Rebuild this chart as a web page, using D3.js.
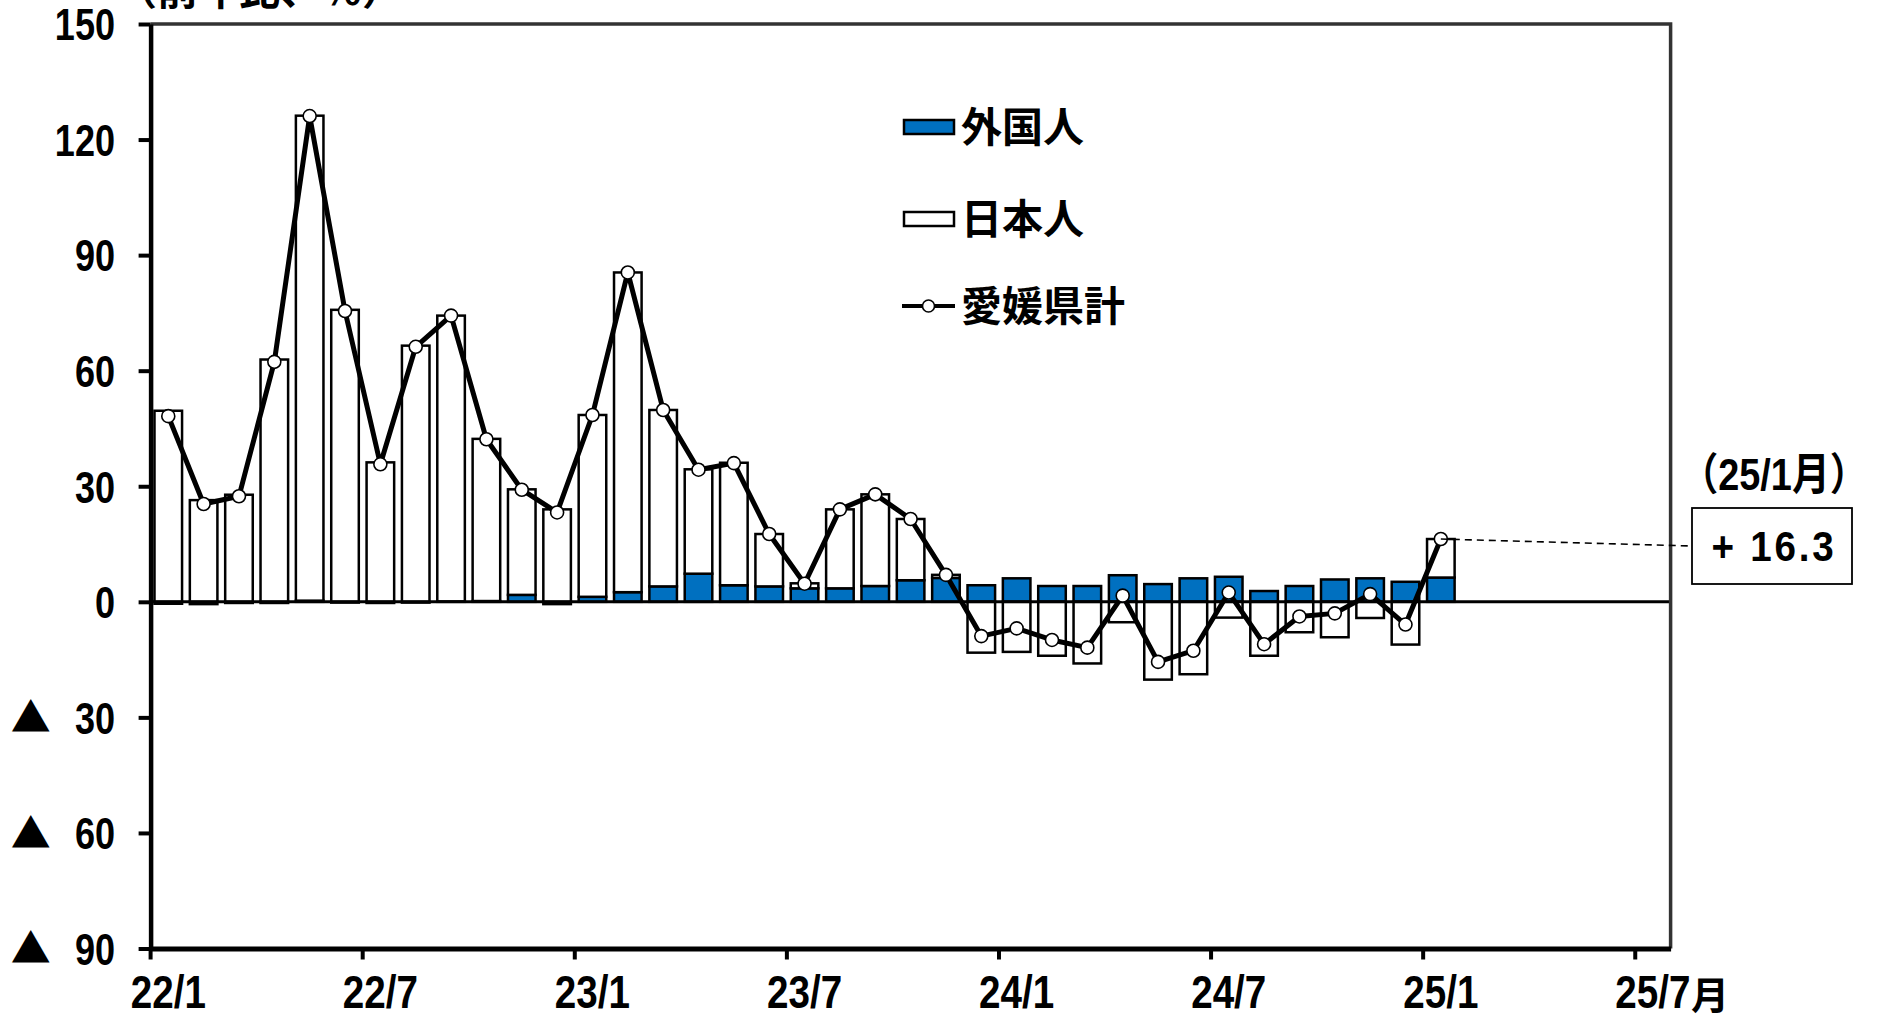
<!DOCTYPE html>
<html>
<head>
<meta charset="utf-8">
<script src="https://cdn.jsdelivr.net/npm/d3@7"></script>
<style>
  body { margin: 0; background: #fff; }
</style>
</head>
<body>
<div id="container"></div>
<script>
//---------------------------------------------------------
// DATA

const months = [
  '22/1', '22/2', '22/3', '22/4', '22/5', '22/6', '22/7', '22/8', '22/9', '22/10', '22/11', '22/12',
  '23/1', '23/2', '23/3', '23/4', '23/5', '23/6', '23/7', '23/8', '23/9', '23/10', '23/11', '23/12',
  '24/1', '24/2', '24/3', '24/4', '24/5', '24/6', '24/7', '24/8', '24/9', '24/10', '24/11', '24/12',
  '25/1', '25/2', '25/3', '25/4', '25/5', '25/6', '25/7'
]
const tickMonths = ['22/1', '22/7', '23/1', '23/7', '24/1', '24/7', '25/1', '25/7']

// contributions (percentage points), 22/1 .. 25/1
const foreign = [
  -0.5, -0.6, -0.3, -0.3, 0.3, -0.2, -0.3, -0.2, 0.1, 0.2, 1.8, -0.6,
  1.3, 2.5, 4.0, 7.3, 4.3, 4.0, 3.5, 3.5, 4.1, 5.6, 6.2, 4.3,
  6.1, 4.1, 4.1, 6.9, 4.6, 6.1, 6.5, 2.8, 4.1, 5.8, 6.1, 5.2,
  6.3
]
const japanese = [
  49.6, 26.4, 27.8, 62.9, 125.9, 75.8, 36.2, 66.5, 74.2, 42.1, 27.4, 24.0,
  47.2, 83.0, 45.8, 27.1, 31.8, 13.6, 1.3, 20.5, 23.8, 15.9, 0.8, -13.2,
  -13.0, -14.0, -16.0, -5.3, -20.2, -18.8, -4.1, -14.0, -7.9, -9.2, -4.2, -11.1,
  10.0
]
const total = [
  48.2, 25.4, 27.4, 62.3, 126.1, 75.5, 35.7, 66.2, 74.3, 42.2, 29.1, 23.2,
  48.5, 85.5, 49.8, 34.3, 36.0, 17.6, 4.7, 24.0, 27.9, 21.5, 7.0, -8.9,
  -6.9, -9.9, -11.9, 1.6, -15.6, -12.7, 2.4, -11.0, -3.8, -3.0, 2.0, -5.9,
  16.3
]

const yTicks = [150, 120, 90, 60, 30, 0, -30, -60, -90]
const legendLabels = ['外国人', '日本人', '愛媛県計']
const yTitle = '（前年比、％）'
const calloutMonth = '（25/1月）'
const calloutValue = '+ 16.3'

//---------------------------------------------------------
// SETUP

const width = 1885
const height = 1019
const blue = '#0070C0'
const numFont = "'Liberation Sans', 'Noto Sans CJK JP', sans-serif"
const jpFont = "'Noto Sans CJK JP', sans-serif"

const plot = {left: 150.6, right: 1670.6, top: 24, bottom: 948.5}

const svg = d3.select('#container').append('svg')
  .attr('width', width)
  .attr('height', height)
  .style('display', 'block')

const x = d3.scaleBand()
  .domain(months)
  .range([plot.left, plot.right])

const y = d3.scaleLinear()
  .domain([-90, 150])
  .range([plot.bottom, plot.top])

const bw = x.bandwidth()
const barW = bw * 0.78
const cx = m => x(m) + bw / 2

const rows = foreign.map((f, i) => ({
  month: months[i],
  foreign: f,
  japanese: japanese[i],
  total: total[i]
}))

// text squeezed horizontally, like the narrow gothic digits of the original
function squeezed(parent, px, py, text, size, sx, anchor = 'middle') {
  const g = parent.append('g')
    .attr('transform', `translate(${px},${py}) scale(${sx},1)`)
  g.append('text')
    .attr('text-anchor', anchor)
    .attr('font-family', numFont)
    .attr('font-weight', 'bold')
    .attr('font-size', size)
    .text(text)
  return g
}

//---------------------------------------------------------
// BARS

const series = d3.stack()
  .keys(['foreign', 'japanese'])
  .offset(d3.stackOffsetDiverging)(rows)

svg.append('g').selectAll('g')
  .data(series)
  .join('g')
    .attr('fill', d => d.key === 'foreign' ? blue : '#fff')
  .selectAll('rect')
  .data(d => d)
  .join('rect')
    .attr('x', d => x(d.data.month) + (bw - barW) / 2)
    .attr('y', d => y(Math.max(d[0], d[1])))
    .attr('width', barW)
    .attr('height', d => Math.abs(y(d[0]) - y(d[1])))
    .attr('stroke', '#000')
    .attr('stroke-width', 2.5)

// zero line
svg.append('line')
  .attr('x1', plot.left).attr('x2', plot.right)
  .attr('y1', y(0)).attr('y2', y(0))
  .attr('stroke', '#000')
  .attr('stroke-width', 3)

// frame top / right
svg.append('path')
  .attr('d', `M${plot.left},${plot.top}H${plot.right}V${plot.bottom}`)
  .attr('fill', 'none')
  .attr('stroke', '#333')
  .attr('stroke-width', 3.5)

//---------------------------------------------------------
// AXES

const yAxis = svg.append('g')
  .attr('transform', `translate(${plot.left},0)`)
  .call(d3.axisLeft(y).tickValues(yTicks).tickSize(12).tickSizeOuter(0).tickFormat(d => Math.abs(d)))

yAxis.select('.domain').attr('stroke-width', 4.5)
yAxis.selectAll('.tick line').attr('stroke-width', 4)
yAxis.selectAll('.tick text')
  .attr('font-family', numFont)
  .attr('font-weight', 'bold')
  .attr('font-size', 44)
  .attr('fill', '#000')
  .attr('x', -35.6 / 0.82)
  .attr('dy', '0.36em')
  .attr('transform', 'scale(0.82,1)')

yAxis.selectAll('.tick')
  .filter(d => d < 0)
  .append('text')
    .attr('x', 30.7 - plot.left)
    .attr('dy', '0.36em')
    .attr('text-anchor', 'middle')
    .attr('font-family', jpFont)
    .attr('font-size', 40)
    .attr('fill', '#000')
    .text('▲')

const xAxis = svg.append('g')
  .attr('transform', `translate(0,${plot.bottom})`)
  .call(d3.axisBottom(x).tickValues(tickMonths).tickSize(11).tickSizeOuter(0))

xAxis.select('.domain').attr('stroke-width', 5)
xAxis.selectAll('.tick line')
  .attr('stroke-width', 4)
  .attr('transform', `translate(${-bw / 2},0)`)
xAxis.selectAll('.tick text')
  .attr('font-family', numFont)
  .attr('font-weight', 'bold')
  .attr('font-size', 46)
  .attr('fill', '#000')
  .attr('y', 60)
  .attr('dy', 0)
  .attr('transform', 'scale(0.84,1)')

xAxis.selectAll('.tick')
  .filter(d => d === '25/7')
  .append('text')
    .attr('x', 57)
    .attr('y', 60)
    .attr('font-family', jpFont)
    .attr('font-weight', 'bold')
    .attr('font-size', 38)
    .attr('fill', '#000')
    .text('月')

// axis title (cut by top edge in the original)
svg.append('text')
  .attr('x', 116)
  .attr('y', 5)
  .attr('font-family', jpFont)
  .attr('font-weight', 'bold')
  .attr('font-size', 41)
  .text(yTitle)

//---------------------------------------------------------
// TOTAL LINE

const line = d3.line()
  .x(d => cx(d.month))
  .y(d => y(d.total))

svg.append('path')
  .datum(rows)
  .attr('d', line)
  .attr('fill', 'none')
  .attr('stroke', '#000')
  .attr('stroke-width', 5)
  .attr('stroke-linejoin', 'round')

svg.append('g').selectAll('circle')
  .data(rows)
  .join('circle')
    .attr('cx', d => cx(d.month))
    .attr('cy', d => y(d.total))
    .attr('r', 6.5)
    .attr('fill', '#fff')
    .attr('stroke', '#000')
    .attr('stroke-width', 1.6)

//---------------------------------------------------------
// LEGEND

const legendRows = [127, 219, 306]
const legend = svg.append('g')

legend.append('rect')
  .attr('x', 904).attr('y', legendRows[0] - 7)
  .attr('width', 50).attr('height', 14)
  .attr('fill', blue).attr('stroke', '#000').attr('stroke-width', 2.5)

legend.append('rect')
  .attr('x', 904).attr('y', legendRows[1] - 7)
  .attr('width', 50).attr('height', 14)
  .attr('fill', '#fff').attr('stroke', '#000').attr('stroke-width', 2.5)

legend.append('line')
  .attr('x1', 902).attr('x2', 955)
  .attr('y1', legendRows[2]).attr('y2', legendRows[2])
  .attr('stroke', '#000').attr('stroke-width', 4)

legend.append('circle')
  .attr('cx', 928.5).attr('cy', legendRows[2]).attr('r', 6)
  .attr('fill', '#fff').attr('stroke', '#000').attr('stroke-width', 1.6)

legend.selectAll('text.lab')
  .data(legendLabels)
  .join('text')
    .attr('class', 'lab')
    .attr('x', 961)
    .attr('y', (d, i) => legendRows[i] + 15)
    .attr('font-family', jpFont)
    .attr('font-weight', 'bold')
    .attr('font-size', 41)
    .text(d => d)

//---------------------------------------------------------
// CALLOUT

const last = rows[rows.length - 1]
const box = {x: 1692, y: 508, w: 160, h: 76}

svg.append('line')
  .attr('x1', cx(last.month)).attr('y1', y(last.total))
  .attr('x2', box.x).attr('y2', box.y + box.h / 2)
  .attr('stroke', '#000')
  .attr('stroke-width', 1.6)
  .attr('stroke-dasharray', '7,5')

svg.append('rect')
  .attr('x', box.x).attr('y', box.y)
  .attr('width', box.w).attr('height', box.h)
  .attr('fill', '#fff')
  .attr('stroke', '#000')
  .attr('stroke-width', 1.8)

squeezed(svg, box.x + 82, 490, calloutMonth, 44, 0.86)
squeezed(svg, box.x + box.w / 2 + 2, 561, calloutValue, 42, 0.92)
  .select('text').style('white-space', 'pre').style('letter-spacing', '3px')
</script>
</body>
</html>
